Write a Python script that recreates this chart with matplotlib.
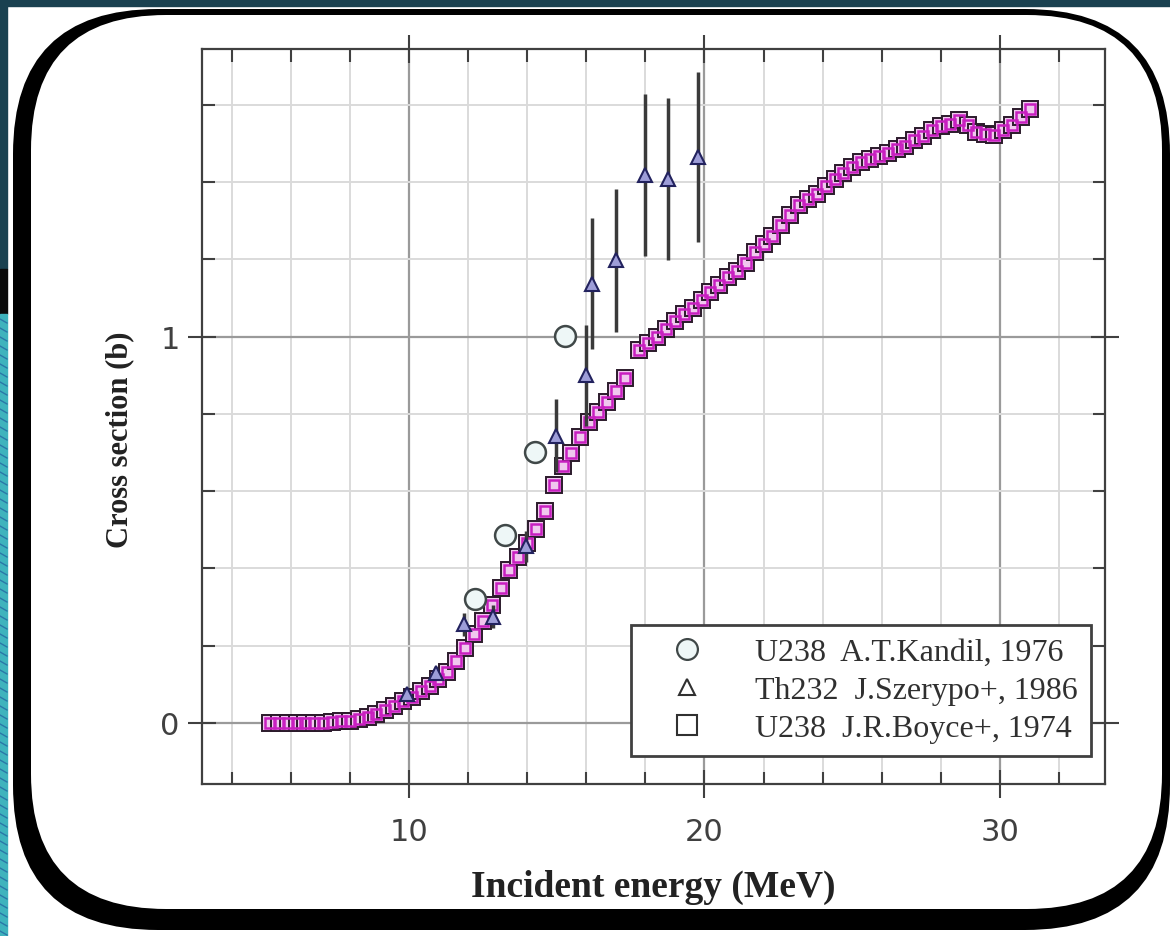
import numpy as np
import matplotlib.pyplot as plt
from matplotlib.patches import FancyBboxPatch, Rectangle
from matplotlib.lines import Line2D

# U238 J.R.Boyce+, 1974
boyce_e = [5.3, 5.6, 5.9, 6.2, 6.5, 6.8, 7.1, 7.4, 7.7, 8.0, 8.3, 8.6, 8.9, 9.2,
           9.5, 9.8, 10.1, 10.4, 10.7, 11.0, 11.3, 11.6, 11.9, 12.2, 12.5, 12.8,
           13.1, 13.4, 13.7, 14.0, 14.3, 14.6, 14.9, 15.2, 15.5, 15.8, 16.1, 16.4,
           16.7, 17.0, 17.3, 17.8, 18.1, 18.4, 18.7, 19.0, 19.3, 19.6, 19.9, 20.2,
           20.5, 20.8, 21.1, 21.4, 21.7, 22.0, 22.3, 22.6, 22.9, 23.2, 23.5, 23.8,
           24.1, 24.4, 24.7, 25.0, 25.3, 25.6, 25.9, 26.2, 26.5, 26.8, 27.1, 27.4,
           27.7, 28.0, 28.3, 28.6, 28.9, 29.2, 29.5, 29.8, 30.1, 30.4, 30.7, 31.0]
boyce_xs = [0.0, 0.0, 0.0, 0.0, 0.0, 0.0, 0.0, 0.002, 0.004, 0.006, 0.010, 0.016,
            0.024, 0.033, 0.044, 0.056, 0.068, 0.082, 0.097, 0.113, 0.132, 0.160,
            0.195, 0.230, 0.265, 0.305, 0.350, 0.395, 0.430, 0.465, 0.503, 0.550,
            0.615, 0.665, 0.700, 0.740, 0.778, 0.805, 0.830, 0.860, 0.893, 0.965,
            0.985, 1.000, 1.020, 1.040, 1.060, 1.075, 1.095, 1.115, 1.135, 1.155,
            1.170, 1.190, 1.220, 1.240, 1.262, 1.290, 1.315, 1.340, 1.357, 1.370,
            1.390, 1.409, 1.425, 1.440, 1.453, 1.460, 1.468, 1.475, 1.485, 1.495,
            1.510, 1.520, 1.535, 1.545, 1.550, 1.560, 1.548, 1.530, 1.525, 1.522,
            1.535, 1.548, 1.570, 1.590]

# Th232 J.Szerypo+, 1986
szer_e = [9.95, 10.9, 11.85, 12.85, 13.95, 14.99, 15.98, 16.2, 17.0, 17.98, 18.77, 19.79]
szer_xs = [0.075, 0.13, 0.256, 0.275, 0.458, 0.744, 0.900, 1.137, 1.198, 1.418, 1.409, 1.466]
szer_err = [0.01, 0.015, 0.03, 0.03, 0.04, 0.095, 0.13, 0.17, 0.185, 0.21, 0.21, 0.22]

# U238 A.T.Kandil, 1976
kandil_e = [12.25, 13.24, 14.25, 15.27]
kandil_xs = [0.321, 0.487, 0.702, 1.003]

labels = ["U238  A.T.Kandil, 1976", "Th232  J.Szerypo+, 1986", "U238  J.R.Boyce+, 1974"]

W, H = 1170, 937
fig = plt.figure(figsize=(W / 100, H / 100), dpi=100)

# slide background and rounded frame, in pixel units
bg = fig.add_axes([0, 0, 1, 1])
bg.set_xlim(0, W)
bg.set_ylim(H, 0)
bg.axis("off")
bg.add_patch(Rectangle((0, 0), W, H, color="white"))
bg.add_patch(Rectangle((0, 0), W, 7, color="#1a4150"))
bg.add_patch(Rectangle((0, 0), 7, 270, color="#1a4150"))
bg.add_patch(Rectangle((0, 270), 7, 45, color="#0a0a0a"))
bg.add_patch(Rectangle((0, 315), 7, H - 315, color="#3fb3bd"))
for yy in range(320, H, 9):
    bg.plot([0, 7], [yy, yy + 4], color="#2a78a8", lw=1)
bg.add_patch(FancyBboxPatch((13, 10), 1157, 921, boxstyle="round,pad=0,rounding_size=145",
                            fc="black", ec="none"))
bg.add_patch(FancyBboxPatch((31, 16), 1131, 894, boxstyle="round,pad=0,rounding_size=135",
                            fc="white", ec="none"))

ax = fig.add_axes([202 / W, 1 - 785 / H, (1105 - 202) / W, (785 - 50) / H])
ax.set_xlim(3, 33.55)
ax.set_ylim(-0.158, 1.745)

ax.set_xticks([10, 20, 30])
ax.set_xticks(np.arange(4, 34, 2), minor=True)
ax.set_yticks([0, 1])
ax.set_yticks(np.arange(0.2, 1.7, 0.2), minor=True)
ax.grid(which="minor", color="#dadada", lw=1.4)
ax.grid(which="major", color="#9a9a9a", lw=1.6)
ax.set_axisbelow(True)

ax.tick_params(which="major", direction="inout", length=20, width=1.5, color="#404040",
               top=True, right=True, labelsize=22, labelcolor="#404040")
ax.tick_params(axis="x", which="major", pad=14)
ax.tick_params(axis="y", which="major", pad=6)
ax.tick_params(which="minor", direction="in", length=9, width=1.5, color="#404040",
               top=True, right=True)
for lab in ax.get_xticklabels() + ax.get_yticklabels():
    lab.set_family(["Liberation Sans Narrow", "DejaVu Sans"])
for s in ax.spines.values():
    s.set_color("#404040")
    s.set_linewidth(1.6)

ax.plot(boyce_e, boyce_xs, ls="none", marker="s", ms=11, mfc="#f0c8ee",
        mec="#2b1a2b", mew=1.4, zorder=3)
ax.plot(boyce_e, boyce_xs, ls="none", marker="s", ms=6.5, mfc="none",
        mec="#c81fc0", mew=1.8, zorder=3)

ax.errorbar(szer_e, szer_xs, yerr=szer_err, fmt="^", ms=10, mfc="#9d9dd8", mec="#22225e",
            mew=1.5, ecolor="#3a3a3a", elinewidth=2.5, capsize=0, zorder=4)

ax.plot(kandil_e, kandil_xs, ls="none", marker="o", ms=15, mfc="#eef7f7",
        mec="#404848", mew=1.8, zorder=5)

ax.set_xlabel("Incident energy (MeV)", family="Liberation Serif", fontweight="bold",
              fontsize=27, color="#222222", labelpad=16)
ax.set_ylabel("Cross section (b)", family="Liberation Serif", fontweight="bold",
              fontsize=22, color="#222222")
ax.yaxis.set_label_coords(-0.075, 0.47)

handles = [
    Line2D([], [], ls="none", marker="o", ms=15, mfc="#eef7f7", mec="#404848", mew=1.6),
    Line2D([], [], ls="none", marker="^", ms=11, mfc="white", mec="#303030", mew=1.5),
    Line2D([], [], ls="none", marker="s", ms=14, mfc="white", mec="#303030", mew=1.5),
]
leg = ax.legend(handles, labels, loc="lower right", bbox_to_anchor=(0.9845, 0.038),
                prop={"family": "Liberation Serif", "size": 23}, fancybox=False,
                framealpha=1, edgecolor="#404040", borderpad=0.4, labelspacing=0.28,
                handletextpad=0.8, borderaxespad=0, handlelength=2.7)
leg.get_frame().set_linewidth(2)
for t in leg.get_texts():
    t.set_color("#303030")

fig.savefig("out.png", dpi=100)
